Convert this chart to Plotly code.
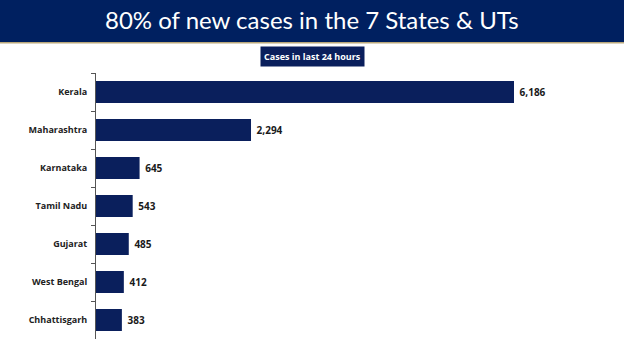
import plotly.graph_objects as go

states = ["Kerala", "Maharashtra", "Karnataka", "Tamil Nadu", "Gujarat", "West Bengal", "Chhattisgarh"]
cases = [6186, 2294, 645, 543, 485, 412, 383]
labels = [f" {v:,}" for v in cases]

W, H = 624, 351
L, R, T, B = 96, 40, 73, 12
ph = H - T - B
def py(p):
    return (H - B - p) / ph
def px(p):
    return (p - L) / (W - L - R)

navy = "#0A1F5C"
fig = go.Figure(go.Bar(
    y=states, x=cases, orientation="h",
    marker=dict(color=navy, line=dict(width=0)),
    text=labels, textposition="outside", cliponaxis=False,
    textfont=dict(family="Open Sans", size=10, color="#1a1a1a", weight="bold"),
))

fig.update_layout(
    width=W, height=H,
    margin=dict(l=L, r=R, t=T, b=B),
    paper_bgcolor="white", plot_bgcolor="white",
    bargap=0.42, showlegend=False,
    xaxis=dict(range=[0, (W - L - R) / (418 / 6186)], visible=False, fixedrange=True),
    yaxis=dict(autorange="reversed", showline=True, linecolor="#555555", linewidth=1,
               ticks="outside", ticklen=4, tickcolor="#555555", tickson="boundaries",
               ticklabelstandoff=6,
               tickfont=dict(family="Open Sans", size=9, color="#222222", weight="bold")),
    shapes=[
        dict(type="rect", xref="paper", yref="paper", x0=px(0), x1=px(W), y0=py(42), y1=py(0),
             fillcolor="#002060", line=dict(width=0), layer="above"),
        dict(type="rect", xref="paper", yref="paper", x0=px(0), x1=px(W), y0=py(43.5), y1=py(42),
             fillcolor="#B9A77A", line=dict(width=0), layer="above"),
    ],
    annotations=[
        dict(text="80% of new cases in the 7 States & UTs", xref="paper", yref="paper",
             x=px(312), y=py(20), xanchor="center", yanchor="middle", showarrow=False,
             font=dict(family="Lato", size=24, color="white")),
        dict(text="<b>Cases in last 24 hours</b>", xref="paper", yref="paper",
             x=px(312), y=py(56), xanchor="center", yanchor="middle", showarrow=False,
             bgcolor="#0A1F5C", borderpad=3,
             font=dict(family="Open Sans", size=9, color="white")),
    ],
)

fig.write_html("out.html")
